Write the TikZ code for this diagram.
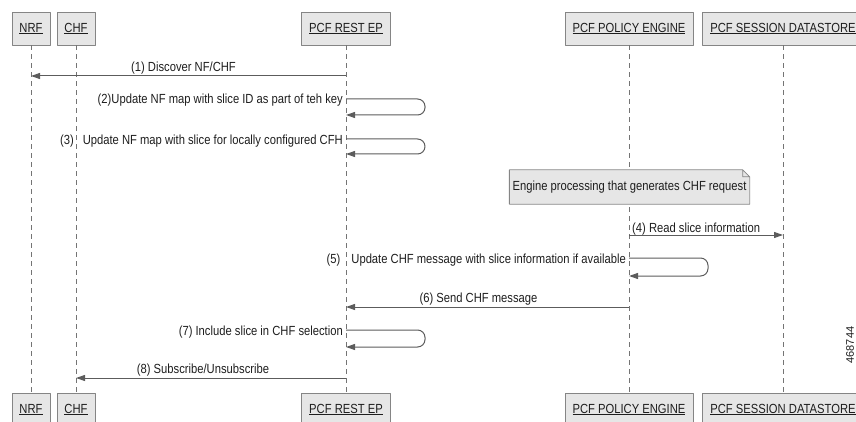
\documentclass[tikz,border=0pt]{standalone}
\usepackage{fontspec}
\setmainfont{Liberation Sans}[FakeStretch=0.85]
\newfontfamily\plainfont{Liberation Sans}
\usetikzlibrary{arrows.meta,calc}
\definecolor{headfill}{HTML}{E6E6E6}
\definecolor{headline}{HTML}{858585}
\definecolor{msgline}{HTML}{5C5C5C}
\definecolor{txt}{HTML}{1E1E1E}
\tikzset{
	head/.style={draw=headline, fill=headfill, line width=.8pt, minimum height=33pt, inner xsep=7.5pt, text=txt},
	life/.style={draw=msgline!85, line width=.8pt, dash pattern=on 5pt off 4pt},
	msg/.style={draw=msgline, line width=1pt, -{Triangle[length=9pt,width=6pt]}},
	selfmsg/.style={msg, rounded corners=7.5pt},
	lbl/.style={text=txt, inner sep=1pt},
	notebox/.style={fill=headfill, text=txt, minimum height=34pt, inner xsep=3pt},
}
\begin{document}
\begin{tikzpicture}[x=1pt, y=-1pt, font=\fontsize{13.2}{15}\selectfont, line join=round]
	\useasboundingbox (0,0) rectangle (856,422);
	\def\ytop{28.5} % top row of heads
	\def\ybot{409.5} % bottom row of heads
	\def\loopw{79} % width of a self message
	% heads and lifelines
	\foreach \n/\x/\t in {nrf/31/NRF, chf/76/CHF, rest/346/PCF REST EP, eng/629/PCF POLICY ENGINE, data/783/PCF SESSION DATASTORE}{
		\node[head] (\n T) at (\x,\ytop) {\underline{\t}};
		\node[head] (\n B) at (\x,\ybot) {\underline{\t}};
		\draw[life] (\n T) -- (\n B);
	}
	% points on the lifelines
	\coordinate (s1) at (restT |- 0,76);   \coordinate (e1) at (nrfT |- 0,76);
	\coordinate (s2) at (restT |- 0,99);   \coordinate (e2) at (restT |- 0,115);
	\coordinate (s3) at (restT |- 0,139);  \coordinate (e3) at (restT |- 0,154);
	\coordinate (s4) at (engT |- 0,235);   \coordinate (e4) at (dataT |- 0,235);
	\coordinate (s5) at (engT |- 0,258);   \coordinate (e5) at (engT |- 0,276);
	\coordinate (s6) at (engT |- 0,307);   \coordinate (e6) at (restT |- 0,307);
	\coordinate (s7) at (restT |- 0,330);  \coordinate (e7) at (restT |- 0,347);
	\coordinate (s8) at (restT |- 0,378);  \coordinate (e8) at (chfT |- 0,378);
	% note
	\node[notebox] (note) at (629.5,187) {Engine processing that generates CHF request};
	\fill[white] ([xshift=-7pt]note.north east) -- (note.north east) -- ([yshift=-7pt]note.north east) -- cycle;
	\draw[draw=headline, line width=.8pt] (note.south west) -- (note.north west) -- ([xshift=-7pt]note.north east) -- ([yshift=-7pt]note.north east) -- (note.south east) -- cycle
		([xshift=-7pt]note.north east) |- ([yshift=-7pt]note.north east);
	% messages
	\draw[msg] (s1) -- node[lbl, above, xshift=-5pt] {(1) Discover NF/CHF} (e1);
	\draw[selfmsg] (s2) -- ++(\loopw,0) |- (e2);
	\node[lbl, anchor=base east] (l2) at ($(s2)+(-2,5)$) {(2)Update NF map with slice ID as part of teh key};
	\draw[selfmsg] (s3) -- ++(\loopw,0) |- (e3);
	\node[lbl, anchor=base east] (l3) at ($(s3)+(-2,6)$) {(3)\hspace{9pt}Update NF map with slice for locally configured CFH};
	\draw[msg] (s4) -- (e4);
	\node[lbl, anchor=base west] (l4) at ($(s4)+(2,-3)$) {(4) Read slice information};
	\draw[selfmsg] (s5) -- ++(\loopw,0) |- (e5);
	\node[lbl, anchor=base east] (l5) at ($(s5)+(-2,5)$) {(5)\hspace{11pt}Update CHF message with slice information if available};
	\draw[msg] (s6) -- node[lbl, above, xshift=-9pt] {(6) Send CHF message} (e6);
	\draw[selfmsg] (s7) -- ++(\loopw,0) |- (e7);
	\node[lbl, anchor=base east] (l7) at ($(s7)+(-2,5)$) {(7) Include slice in CHF selection};
	\draw[msg] (s8) -- node[lbl, above, xshift=-8pt] {(8) Subscribe/Unsubscribe} (e8);
	% figure number
	\node[rotate=90, text=txt, inner sep=0pt, font=\plainfont\fontsize{11}{13}\selectfont] (fig) at (850,345) {468744};
\end{tikzpicture}
\end{document}
